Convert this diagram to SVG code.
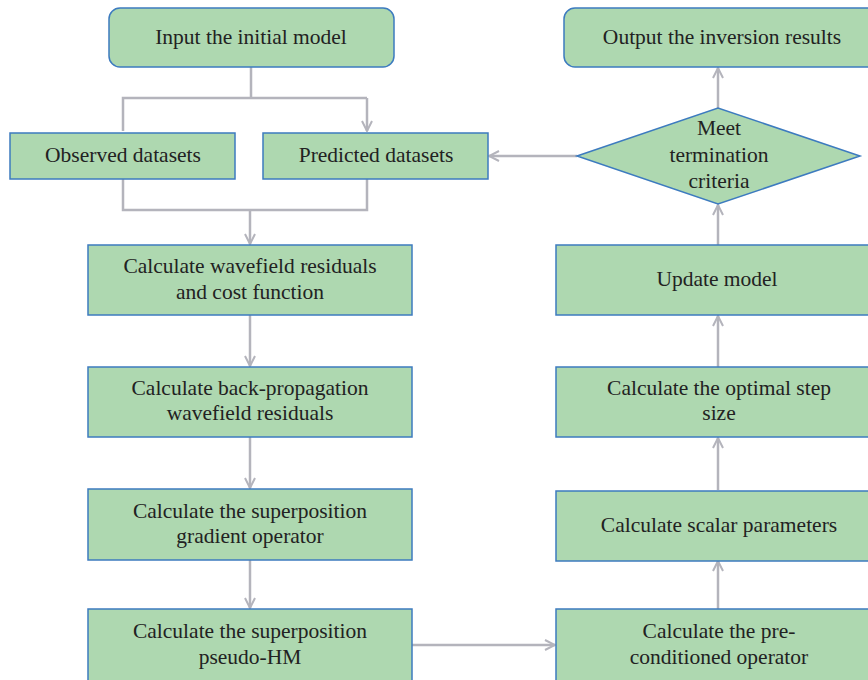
<svg xmlns="http://www.w3.org/2000/svg" width="868" height="680" viewBox="0 0 868 680">
<defs>
<style>
.box{fill:#aed8b0;stroke:#3d7bbf;stroke-width:1.5}
.t{font-family:"Liberation Serif","Times New Roman",serif;font-size:21.5px;fill:#222;text-anchor:middle}
.c{fill:none;stroke:#b4b4bc;stroke-width:2.5}
</style>
<marker id="ah" viewBox="0 0 12 12" refX="11" refY="6" markerWidth="12" markerHeight="12" markerUnits="userSpaceOnUse" orient="auto">
<path d="M1,1 L11,6 L1,11" fill="none" stroke="#b4b4bc" stroke-width="2"/>
</marker>
</defs>
<rect width="868" height="680" fill="#ffffff"/>
<g id="connectors">
<path class="c" d="M251,67 V98 M123,131 V98 H367"/>
<path class="c" d="M367,98 V131" marker-end="url(#ah)"/>
<path class="c" d="M123,179 V210 H367 V179"/>
<path class="c" d="M250,210 V244" marker-end="url(#ah)"/>
<path class="c" d="M250,315 V366" marker-end="url(#ah)"/>
<path class="c" d="M250,437 V488" marker-end="url(#ah)"/>
<path class="c" d="M250,560 V608" marker-end="url(#ah)"/>
<path class="c" d="M412,645 H555" marker-end="url(#ah)"/>
<path class="c" d="M718,609 V561" marker-end="url(#ah)"/>
<path class="c" d="M718,490 V438" marker-end="url(#ah)"/>
<path class="c" d="M718,367 V316" marker-end="url(#ah)"/>
<path class="c" d="M718,245 V205" marker-end="url(#ah)"/>
<path class="c" d="M718,108 V68" marker-end="url(#ah)"/>
<path class="c" d="M577,156 H489" marker-end="url(#ah)"/>
</g>
<g id="input">
<rect class="box" x="109" y="8" width="285" height="59" rx="11"/>
<text class="t" x="251" y="44">Input the initial model</text>
</g>
<g id="output">
<rect class="box" x="564" y="8" width="320" height="59" rx="11"/>
<text class="t" x="722" y="44">Output the inversion results</text>
</g>
<g id="observed">
<rect class="box" x="10" y="133" width="225" height="46"/>
<text class="t" x="123" y="162">Observed datasets</text>
</g>
<g id="predicted">
<rect class="box" x="263" y="133" width="225" height="46"/>
<text class="t" x="376" y="162">Predicted datasets</text>
</g>
<g id="decision">
<polygon class="box" points="577,156 718,108 860,156 718,204"/>
<text class="t" x="719" y="135">Meet</text>
<text class="t" x="719" y="162">termination</text>
<text class="t" x="719" y="188">criteria</text>
</g>
<g id="residuals">
<rect class="box" x="88" y="245" width="324" height="70"/>
<text class="t" x="250" y="273">Calculate wavefield residuals</text>
<text class="t" x="250" y="299">and cost function</text>
</g>
<g id="backprop">
<rect class="box" x="88" y="367" width="324" height="70"/>
<text class="t" x="250" y="395">Calculate back-propagation</text>
<text class="t" x="250" y="420">wavefield residuals</text>
</g>
<g id="gradient">
<rect class="box" x="88" y="489" width="324" height="71"/>
<text class="t" x="250" y="518">Calculate the superposition</text>
<text class="t" x="250" y="543">gradient operator</text>
</g>
<g id="pseudohm">
<rect class="box" x="88" y="609" width="324" height="75"/>
<text class="t" x="250" y="638">Calculate the superposition</text>
<text class="t" x="250" y="664">pseudo-HM</text>
</g>
<g id="update">
<rect class="box" x="556" y="245" width="330" height="70"/>
<text class="t" x="717" y="286">Update model</text>
</g>
<g id="stepsize">
<rect class="box" x="556" y="367" width="330" height="70"/>
<text class="t" x="719" y="395">Calculate the optimal step</text>
<text class="t" x="719" y="420">size</text>
</g>
<g id="scalar">
<rect class="box" x="556" y="491" width="330" height="70"/>
<text class="t" x="719" y="532">Calculate scalar parameters</text>
</g>
<g id="precond">
<rect class="box" x="556" y="609" width="330" height="75"/>
<text class="t" x="719" y="638">Calculate the pre-</text>
<text class="t" x="719" y="664">conditioned operator</text>
</g>
</svg>
